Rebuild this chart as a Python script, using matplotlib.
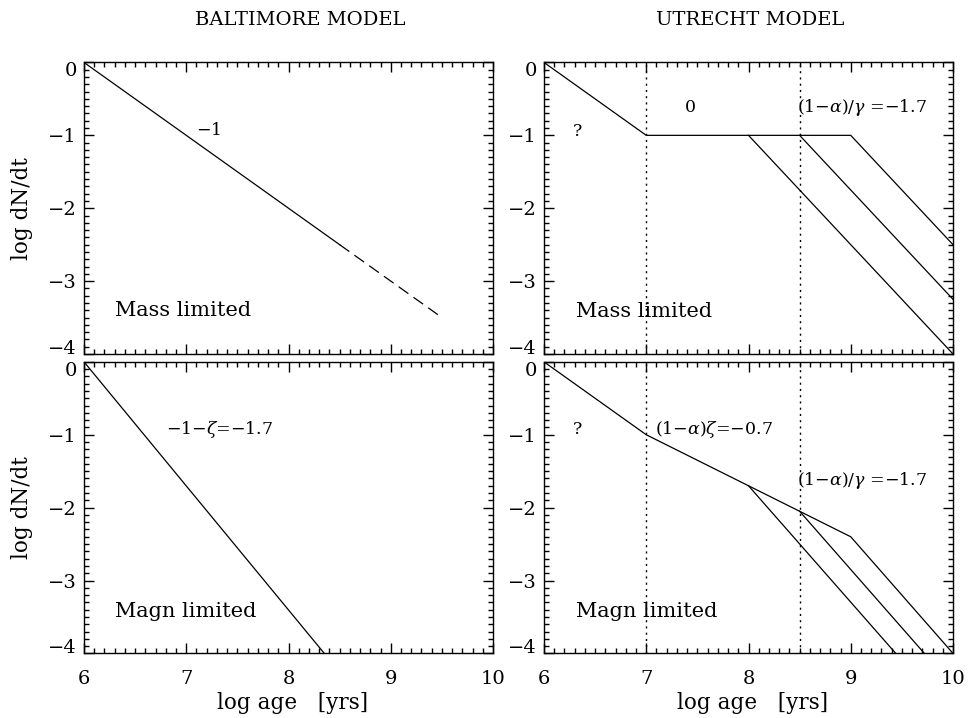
import matplotlib

matplotlib.use("Agg")
import matplotlib.pyplot as plt

########
# Config
########

plt.rcParams["font.family"] = ["DejaVu Serif"]
plt.rcParams["mathtext.fontset"] = "dejavuserif"

X_RANGE = (6, 10)
Y_RANGE = (-4, 0)
X_TICKS = [6, 7, 8, 9, 10]
Y_TICKS = [-4, -3, -2, -1, 0]

# dotted reference ages in the Utrecht panels
VLINES = [7.0, 8.5]

# Baltimore, mass limited (solid part + dashed extension)
BALT_MASS_X = [6.0, 8.5]
BALT_MASS_Y = [0.0, -2.5]
BALT_MASS_EXT_X = [8.5, 9.5]
BALT_MASS_EXT_Y = [-2.5, -3.5]

# Baltimore, magnitude limited
BALT_MAGN_X = [6.0, 8.35]
BALT_MAGN_Y = [0.0, -4.0]

# Utrecht, mass limited
UTR_MASS_X = [6.0, 7.0, 9.0, 10.0]
UTR_MASS_Y = [0.0, -1.0, -1.0, -2.5]
UTR_MASS_BRANCH_X = [[8.0, 10.0], [8.5, 10.0]]
UTR_MASS_BRANCH_Y = [[-1.0, -4.0], [-1.0, -3.25]]

# Utrecht, magnitude limited
UTR_MAGN_X = [6.0, 7.0, 8.0, 8.5, 9.0, 10.0]
UTR_MAGN_Y = [0.0, -1.0, -1.7, -2.05, -2.4, -4.0]
UTR_MAGN_BRANCH_X = [[8.0, 9.44], [8.5, 9.72]]
UTR_MAGN_BRANCH_Y = [[-1.7, -4.0], [-2.05, -4.0]]

LW = 0.9
TICK_FS = 14
LABEL_FS = 15.5
TEXT_FS = 15
ANN_FS = 12.5

#########
# Figure
#########
fig = plt.figure(figsize=(9.68, 7.18), dpi=100)

left_x, right_x, width = 0.0868, 0.562, 0.4225
top_y, bot_y, height = 0.507, 0.090, 0.406

ax_bm = fig.add_axes([left_x, top_y, width, height])
ax_um = fig.add_axes([right_x, top_y, width, height])
ax_bg = fig.add_axes([left_x, bot_y, width, height])
ax_ug = fig.add_axes([right_x, bot_y, width, height])

for ax in (ax_bm, ax_um, ax_bg, ax_ug):
    ax.set_xlim(*X_RANGE)
    ax.set_ylim(*Y_RANGE)
    ax.set_xticks(X_TICKS)
    ax.set_yticks(Y_TICKS)
    ax.set_xticks([x / 10 for x in range(60, 101)], minor=True)
    ax.set_yticks([y / 10 for y in range(-40, 1)], minor=True)
    ax.tick_params(which="both", direction="in", top=True, right=True,
                   width=1.0, labelsize=TICK_FS)
    ax.tick_params(which="major", length=7)
    ax.tick_params(which="minor", length=3.5)
    ax.tick_params(axis="y", pad=5)
    ax.tick_params(axis="x", pad=12)
    for sp in ax.spines.values():
        sp.set_linewidth(1.0)
    # keep end labels inside the axis range, like the original
    labels = ax.get_yticklabels()
    labels[0].set_va("baseline")
    labels[-1].set_va("top")

for ax in (ax_bm, ax_um):
    ax.tick_params(axis="x", labelbottom=False)

for ax in (ax_bm, ax_bg):
    ax.set_ylabel("log dN/dt", fontsize=LABEL_FS)
    ax.yaxis.label.set_va("center")
    ax.yaxis.set_label_coords(-0.152, 0.5)

for ax in (ax_bg, ax_ug):
    ax.set_xlabel("log age   [yrs]", fontsize=LABEL_FS)
    ax.xaxis.label.set_va("center")
    ax.xaxis.set_label_coords(0.511, -0.17)

for ax in (ax_um, ax_ug):
    for xv in VLINES:
        ax.axvline(xv, color="black", lw=1.0, linestyle=(0, (1.5, 3)))

# Baltimore model
ax_bm.plot(BALT_MASS_X, BALT_MASS_Y, color="black", lw=LW)
ax_bm.plot(BALT_MASS_EXT_X, BALT_MASS_EXT_Y, color="black", lw=LW,
           linestyle=(0, (9.5, 5)))
ax_bg.plot(BALT_MAGN_X, BALT_MAGN_Y, color="black", lw=LW)

# Utrecht model
ax_um.plot(UTR_MASS_X, UTR_MASS_Y, color="black", lw=LW)
for bx, by in zip(UTR_MASS_BRANCH_X, UTR_MASS_BRANCH_Y):
    ax_um.plot(bx, by, color="black", lw=LW)
ax_ug.plot(UTR_MAGN_X, UTR_MAGN_Y, color="black", lw=LW)
for bx, by in zip(UTR_MAGN_BRANCH_X, UTR_MAGN_BRANCH_Y):
    ax_ug.plot(bx, by, color="black", lw=LW)

#############
# Annotations
#############
ax_bm.text(7.1, -0.94, r"$-$1", fontsize=ANN_FS, va="center")
ax_bm.text(6.3, -3.41, "Mass limited", fontsize=TEXT_FS, va="center")
ax_bg.text(6.8, -0.93, r"$-$1$-\zeta$=$-$1.7", fontsize=ANN_FS, va="center")
ax_bg.text(6.3, -3.42, "Magn limited", fontsize=TEXT_FS, va="center")

ax_um.text(6.28, -0.95, "?", fontsize=ANN_FS, va="center")
ax_um.text(7.43, -0.62, "0", fontsize=ANN_FS, va="center", ha="center")
ax_um.text(8.47, -0.62, r"(1$-\alpha$)/$\gamma$ =$-$1.7", fontsize=ANN_FS,
           va="center")
ax_um.text(6.31, -3.42, "Mass limited", fontsize=TEXT_FS, va="center")

ax_ug.text(6.28, -0.93, "?", fontsize=ANN_FS, va="center")
ax_ug.text(7.09, -0.93, r"(1$-\alpha$)$\zeta$=$-$0.7", fontsize=ANN_FS,
           va="center")
ax_ug.text(8.47, -1.63, r"(1$-\alpha$)/$\gamma$ =$-$1.7", fontsize=ANN_FS,
           va="center")
ax_ug.text(6.31, -3.42, "Magn limited", fontsize=TEXT_FS, va="center")

ax_bm.text(0.528, 1.147, "BALTIMORE MODEL", transform=ax_bm.transAxes,
           ha="center", va="center", fontsize=14)
ax_um.text(0.504, 1.147, "UTRECHT MODEL", transform=ax_um.transAxes,
           ha="center", va="center", fontsize=14)

fig.savefig("out.png", dpi=100)
